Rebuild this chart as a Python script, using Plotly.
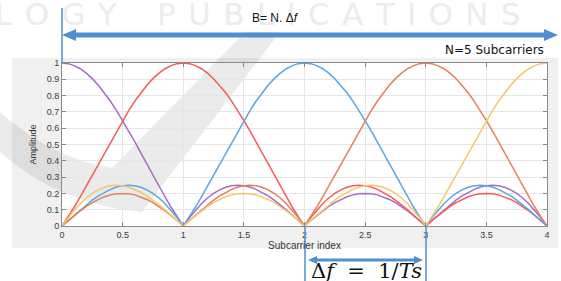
import plotly.graph_objects as go

# ---- data ----
x_index = [0.00, 0.05, 0.10, 0.15, 0.20, 0.25, 0.30, 0.35, 0.40, 0.45,
           0.50, 0.55, 0.60, 0.65, 0.70, 0.75, 0.80, 0.85, 0.90, 0.95,
           1.00, 1.05, 1.10, 1.15, 1.20, 1.25, 1.30, 1.35, 1.40, 1.45,
           1.50, 1.55, 1.60, 1.65, 1.70, 1.75, 1.80, 1.85, 1.90, 1.95,
           2.00, 2.05, 2.10, 2.15, 2.20, 2.25, 2.30, 2.35, 2.40, 2.45,
           2.50, 2.55, 2.60, 2.65, 2.70, 2.75, 2.80, 2.85, 2.90, 2.95,
           3.00, 3.05, 3.10, 3.15, 3.20, 3.25, 3.30, 3.35, 3.40, 3.45,
           3.50, 3.55, 3.60, 3.65, 3.70, 3.75, 3.80, 3.85, 3.90, 3.95,
           4.00]

# subcarrier peaking at index 0 (purple)
sub0 = [1.000,
        .996, .984, .965, .938, .904, .863, .817, .765, .708, .647,
        .583, .517, .449, .380, .312, .244, .178, .115, .056, 0,
        .051, .097, .137, .172, .200, .222, .238, .247, .250, .247,
        .239, .225, .207, .185, .159, .130, .099, .066, .033, 0,
        .033, .064, .093, .120, .143, .163, .179, .191, .198, .200,
        .198, .191, .179, .163, .143, .120, .093, .064, .033, 0,
        .033, .066, .099, .130, .159, .185, .207, .225, .239, .247,
        .250, .247, .238, .222, .200, .172, .137, .097, .051, 0]
# subcarrier peaking at index 1 (red)
sub1 = [0,
        .056, .115, .178, .244, .312, .380, .449, .517, .583, .647,
        .708, .765, .817, .863, .904, .938, .965, .984, .996, 1.000,
        .996, .984, .965, .938, .904, .863, .817, .765, .708, .647,
        .583, .517, .449, .380, .312, .244, .178, .115, .056, 0,
        .051, .097, .137, .172, .200, .222, .238, .247, .250, .247,
        .239, .225, .207, .185, .159, .130, .099, .066, .033, 0,
        .033, .064, .093, .120, .143, .163, .179, .191, .198, .200,
        .198, .191, .179, .163, .143, .120, .093, .064, .033, 0]
# subcarrier peaking at index 2 (blue)
sub2 = [0,
        .033, .066, .099, .130, .159, .185, .207, .225, .239, .247,
        .250, .247, .238, .222, .200, .172, .137, .097, .051, 0,
        .056, .115, .178, .244, .312, .380, .449, .517, .583, .647,
        .708, .765, .817, .863, .904, .938, .965, .984, .996, 1.000,
        .996, .984, .965, .938, .904, .863, .817, .765, .708, .647,
        .583, .517, .449, .380, .312, .244, .178, .115, .056, 0,
        .051, .097, .137, .172, .200, .222, .238, .247, .250, .247,
        .239, .225, .207, .185, .159, .130, .099, .066, .033, 0]
# subcarrier peaking at index 3 (orange)
sub3 = [0,
        .033, .064, .093, .120, .143, .163, .179, .191, .198, .200,
        .198, .191, .179, .163, .143, .120, .093, .064, .033, 0,
        .033, .066, .099, .130, .159, .185, .207, .225, .239, .247,
        .250, .247, .238, .222, .200, .172, .137, .097, .051, 0,
        .056, .115, .178, .244, .312, .380, .449, .517, .583, .647,
        .708, .765, .817, .863, .904, .938, .965, .984, .996, 1.000,
        .996, .984, .965, .938, .904, .863, .817, .765, .708, .647,
        .583, .517, .449, .380, .312, .244, .178, .115, .056, 0]
# subcarrier peaking at index 4 (yellow)
sub4 = [0,
        .051, .097, .137, .172, .200, .222, .238, .247, .250, .247,
        .239, .225, .207, .185, .159, .130, .099, .066, .033, 0,
        .033, .064, .093, .120, .143, .163, .179, .191, .198, .200,
        .198, .191, .179, .163, .143, .120, .093, .064, .033, 0,
        .033, .066, .099, .130, .159, .185, .207, .225, .239, .247,
        .250, .247, .238, .222, .200, .172, .137, .097, .051, 0,
        .056, .115, .178, .244, .312, .380, .449, .517, .583, .647,
        .708, .765, .817, .863, .904, .938, .965, .984, .996, 1.000]

series = [sub0, sub1, sub2, sub3, sub4]
colors = ["#a66dc6", "#f65a5a", "#5ba6de", "#e2805c", "#f4c86a"]

x_ticks = [0, 0.5, 1, 1.5, 2, 2.5, 3, 3.5, 4]
x_ticklabels = ["0", "0.5", "1", "1.5", "2", "2.5", "3", "3.5", "4"]
y_ticks = [0, 0.1, 0.2, 0.3, 0.4, 0.5, 0.6, 0.7, 0.8, 0.9, 1]
y_ticklabels = ["0", "0.1", "0.2", "0.3", "0.4", "0.5", "0.6", "0.7", "0.8", "0.9", "1"]

# ---- geometry ----
W, H = 561, 281
L, R, T, B = 62, 547, 63, 226


def PX(px):
    return (px - L) / (R - L)


def PY(py):
    return (B - py) / (B - T)


fig = go.Figure()
for s, c in zip(series, colors):
    fig.add_trace(go.Scatter(x=x_index, y=s, mode="lines",
                             line=dict(color=c, width=1.5), showlegend=False,
                             hoverinfo="skip"))

shapes = []
# MATLAB figure grey
shapes.append(dict(type="rect", xref="paper", yref="paper", layer="below",
                   x0=PX(12), x1=PX(558), y0=PY(248), y1=PY(58),
                   fillcolor="#f0f0f0", line=dict(width=0)))
# plot area white
shapes.append(dict(type="rect", xref="paper", yref="paper", layer="below",
                   x0=0, x1=1, y0=0, y1=1, fillcolor="white", line=dict(width=0)))


def path_from(points_cmds):
    out = []
    for cmd, pts in points_cmds:
        coords = " ".join(f"{PX(a):.4f},{PY(b):.4f}" for a, b in pts)
        out.append(f"{cmd}{coords}")
    return " ".join(out) + " Z"


# watermark swoosh
swoosh = path_from([
    ("M", [(0, 112)]),
    ("Q", [(55, 160), (112, 168)]),
    ("L", [(245, 32)]),
    ("L", [(280, 32)]),
    ("L", [(142, 212)]),
    ("Q", [(60, 205), (0, 152)]),
])
shapes.append(dict(type="path", xref="paper", yref="paper", layer="below",
                   path=swoosh, fillcolor="rgba(0,0,0,0.08)", line=dict(width=0)))

blue = "#4f8fd0"
# vertical guide lines
shapes.append(dict(type="line", xref="paper", yref="paper", x0=PX(62), x1=PX(62),
                   y0=PY(8), y1=PY(63), line=dict(color=blue, width=1.5)))
for xp in (305, 426):
    shapes.append(dict(type="line", xref="paper", yref="paper", x0=PX(xp), x1=PX(xp),
                       y0=PY(226), y1=PY(281), line=dict(color=blue, width=1.5)))


def double_arrow(x0, x1, yc, shaft, head_h, head_l, color):
    pts = [(x0, yc), (x0 + head_l, yc - head_h / 2), (x0 + head_l, yc - shaft / 2),
           (x1 - head_l, yc - shaft / 2), (x1 - head_l, yc - head_h / 2), (x1, yc),
           (x1 - head_l, yc + head_h / 2), (x1 - head_l, yc + shaft / 2),
           (x0 + head_l, yc + shaft / 2), (x0 + head_l, yc + head_h / 2)]
    p = "M" + " L".join(f"{PX(a):.4f},{PY(b):.4f}" for a, b in pts) + " Z"
    return dict(type="path", xref="paper", yref="paper", path=p,
                fillcolor=color, line=dict(width=0))


shapes.append(double_arrow(62, 558, 35, 5, 12, 14, blue))
shapes.append(double_arrow(308, 423, 260, 3, 8, 9, blue))

gap = "\u2009\u2009"
watermark = gap.join("LOGY") + gap + "\u2002" + gap + gap.join("PUBLICATIONS")

annotations = [
    dict(text=watermark,
         xref="paper", yref="paper", x=PX(258), y=PY(14), xanchor="center", yanchor="middle",
         showarrow=False, font=dict(family="DejaVu Sans", size=31, color="#ececec")),
    dict(text="B= N. Δ<i>f</i>", xref="paper", yref="paper", x=PX(275), y=PY(18),
         xanchor="center", yanchor="middle", showarrow=False,
         font=dict(family="Liberation Sans", size=12, color="#111111")),
    dict(text="N=5 Subcarriers", xref="paper", yref="paper", x=PX(546), y=PY(50),
         xanchor="right", yanchor="middle", showarrow=False,
         font=dict(family="DejaVu Sans", size=12, color="#111111")),
    dict(text="Δ<i>f</i>&nbsp;&nbsp;=&nbsp;&nbsp;1/<i>Ts</i>", xref="paper", yref="paper",
         x=PX(366), y=PY(271), xanchor="center", yanchor="middle", showarrow=False,
         font=dict(family="DejaVu Serif", size=21, color="#111111")),
]

axis_common = dict(showline=True, linecolor="#8a8a8a", linewidth=1, mirror="ticks",
                   ticks="inside", ticklen=4, tickcolor="#8a8a8a", showgrid=True,
                   gridcolor="#e6e6e6", gridwidth=1, zeroline=False,
                   tickfont=dict(family="Liberation Sans", size=9, color="#3c3c3c"))

fig.update_layout(
    width=W, height=H,
    margin=dict(l=L, r=W - R, t=T, b=H - B),
    paper_bgcolor="white", plot_bgcolor="rgba(0,0,0,0)",
    shapes=shapes, annotations=annotations, showlegend=False,
    xaxis=dict(range=[0, 4], tickvals=x_ticks, ticktext=x_ticklabels,
               title=dict(text="Subcarrier index", standoff=2,
                          font=dict(family="Liberation Sans", size=10, color="#333333")),
               **axis_common),
    yaxis=dict(range=[0, 1], tickvals=y_ticks, ticktext=y_ticklabels,
               title=dict(text="Amplitude", standoff=8,
                          font=dict(family="Liberation Sans Narrow, Liberation Sans", size=9, color="#333333")),
               **axis_common),
)

fig.write_html("out.html", config={"displayModeBar": False},
               post_script="document.body.style.margin='0';document.body.style.padding='0';")
